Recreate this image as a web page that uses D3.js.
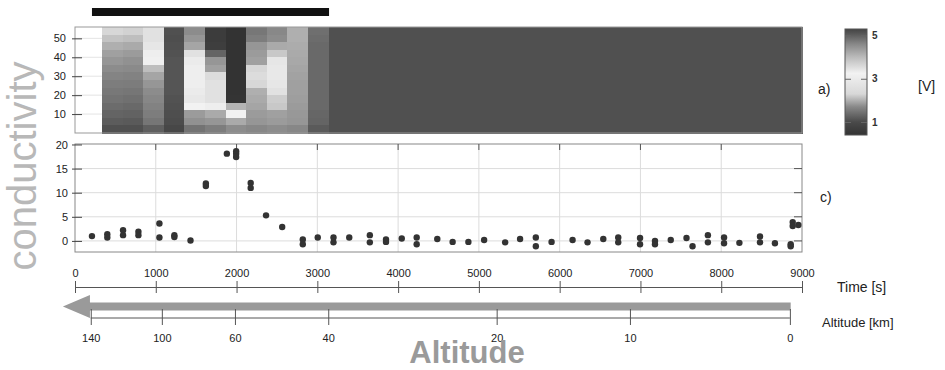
<html>
  <head>
    <title>conductivity / altitude</title>
    <script type="text/javascript" src="https://cdn.jsdelivr.net/npm/d3@7"></script>
    <style>
      body {
        margin: 0;
        background-color: white;
      }
      svg {
        display: block;
        font-family: "Liberation Sans", Arial, sans-serif;
      }
    </style>
  </head>

  <body>
    <script type="text/javascript">
      // Size
      const w = 945;
      const h = 370;

      // Time axis [s]
      const timeTicks = [0, 1000, 2000, 3000, 4000, 5000, 6000, 7000, 8000, 9000];
      // Altitude ticks [km] and the flight time at which each is passed
      const altTicks = [140, 100, 60, 40, 20, 10, 0];
      const altTickTimes = [195, 1075, 1980, 3135, 5220, 6870, 8850];

      // Black bar on top (time span)
      const highlight = [210, 3145];

      // Panel a): columns of the map, start time of each column [s]
      const colStarts = [335, 590, 845, 1100, 1355, 1610, 1865, 2120, 2375, 2630, 2885];
      const colWidth = 255;
      // rows of 4 units, top row first
      const rowBottoms = [52, 48, 44, 40, 36, 32, 28, 24, 20, 16, 12, 8, 4, 0];
      const rowHeight = 4;
      // values [V] per column, top row first
      const colValues = [
        [3.62, 3.89, 4.14, 4.32, 4.44, 4.55, 4.64, 4.71, 4.76, 4.81, 4.87, 4.95, 5.03, 5.16],
        [3.69, 3.96, 4.20, 4.38, 4.49, 4.58, 4.66, 4.72, 4.78, 4.84, 4.90, 4.97, 5.05, 5.16],
        [3.48, 3.48, 3.41, 3.30, 3.28, 3.96, 4.26, 4.44, 4.55, 4.61, 4.66, 4.71, 4.78, 5.00],
        [5.16, 5.18, 5.16, 5.14, 5.10, 5.10, 5.10, 5.10, 5.10, 5.14, 5.16, 5.18, 5.21, 5.27],
        [4.55, 4.44, 4.26, 3.48, 3.35, 3.30, 3.30, 3.30, 3.35, 3.39, 3.25, 4.38, 4.49, 4.81],
        [0.63, 0.63, 0.69, 4.95, 4.44, 4.32, 3.55, 3.48, 3.48, 3.48, 3.30, 4.20, 4.44, 4.71],
        [0.40, 0.40, 0.40, 0.40, 0.40, 0.40, 0.40, 0.40, 0.40, 0.43, 4.08, 3.25, 4.20, 4.55],
        [4.77, 4.71, 4.44, 4.38, 4.32, 3.62, 3.55, 3.62, 4.14, 4.20, 4.26, 4.38, 4.44, 4.61],
        [4.60, 4.55, 4.20, 3.82, 3.41, 3.39, 3.39, 3.41, 3.48, 3.75, 3.82, 4.32, 4.38, 4.55],
        [4.14, 4.14, 4.18, 4.20, 4.22, 4.26, 4.29, 4.32, 4.32, 4.34, 4.38, 4.41, 4.44, 4.61],
        [4.85, 4.87, 4.90, 4.90, 4.90, 4.90, 4.90, 4.90, 4.90, 4.90, 4.90, 4.93, 4.95, 5.05]
      ];
      // rest of the flight
      const restSpan = [3140, 9000];
      const restValue = 5.16;
      const mapYTicks = [10, 20, 30, 40, 50];
      const cbarTicks = [1, 3, 5];

      // Panel c): conductivity points
      const scatTime = [210, 400, 400, 595, 595, 785, 785, 1045, 1045, 1230, 1230, 1430, 1620, 1620,
        1880, 1995, 1995, 1995, 2175, 2175, 2365, 2565, 2820, 2820, 3005, 3200, 3200, 3395, 3650, 3650,
        3850, 3850, 4045, 4230, 4230, 4485, 4675, 4870, 5065, 5325, 5510, 5705, 5705, 5900, 6160, 6345,
        6540, 6725, 6725, 6995, 6995, 7180, 7180, 7375, 7570, 7645, 7835, 7835, 8035, 8035, 8225, 8480,
        8480, 8665, 8860, 8860, 8885, 8885, 8955];
      const scatValue = [1.0, 1.4, 0.7, 2.2, 1.2, 1.9, 1.2, 3.6, 0.7, 1.2, 0.8, 0.1, 11.9, 11.4,
        18.1, 18.6, 18.1, 17.4, 12.0, 11.0, 5.3, 2.9, 0.3, -0.7, 0.7, 0.7, -0.3, 0.7, 1.2, -0.3,
        0.3, -0.2, 0.5, 0.7, -0.7, 0.4, -0.2, -0.2, 0.2, -0.3, 0.4, 0.7, -1.1, -0.2, 0.2, -0.3,
        0.4, 0.7, -0.3, 0.6, -0.7, 0.0, -0.7, 0.2, 0.6, -1.1, 1.2, -0.3, 0.7, -0.5, -0.4, 0.9,
        -0.3, -0.5, -0.7, -1.1, 3.9, 3.1, 3.3];
      const scatYTicks = [0, 5, 10, 15, 20];

      // Scales
      const xScale = d3.scaleLinear().domain([0, 9000]).range([75, 802]);
      const yMap = d3.scaleLinear().domain([0, 56]).range([133, 27]);
      const yScat = d3.scaleLinear().domain([-2.3, 20.1]).range([252, 144]);
      const yCbar = d3.scaleLinear().domain([0.4, 5.3]).range([135, 29]);
      // grey map: dark - white - dark
      const grey = d3.scaleLinear()
        .domain([0.4, 1.0, 1.7, 2.3, 3.25, 4.0, 4.6, 5.1, 5.3])
        .range(["#333", "#4a4a4a", "#888", "#d8d8d8", "#f2f2f2", "#bbb", "#888", "#555", "#444"])
        .clamp(true);

      const svg = d3.select("body")
        .append("svg")
        .attr("width", w)
        .attr("height", h);

      // Black bar
      svg.append("rect")
        .attr("x", xScale(highlight[0]))
        .attr("y", 8)
        .attr("width", xScale(highlight[1]) - xScale(highlight[0]))
        .attr("height", 8)
        .attr("fill", "#111");

      // ---- panel a) ----
      svg.append("g")
        .selectAll("line")
        .data(mapYTicks)
        .enter()
        .append("line")
        .attr("x1", xScale(0))
        .attr("x2", xScale(9000))
        .attr("y1", d => yMap(d))
        .attr("y2", d => yMap(d))
        .attr("stroke", "#e4e4e4");

      const cells = [];
      colStarts.forEach(function (t, i) {
        rowBottoms.forEach(function (b, j) {
          cells.push({ t0: t, t1: t + colWidth, b: b, v: colValues[i][j] });
        });
      });
      cells.push({ t0: restSpan[0], t1: restSpan[1], b: 0, top: 56, v: restValue });

      svg.append("g")
        .attr("shape-rendering", "crispEdges")
        .selectAll("rect")
        .data(cells)
        .enter()
        .append("rect")
        .attr("x", d => xScale(d.t0))
        .attr("y", d => yMap(d.top !== undefined ? d.top : d.b + rowHeight))
        .attr("width", d => xScale(d.t1) - xScale(d.t0) + 0.6)
        .attr("height", d => yMap(d.b) - yMap(d.top !== undefined ? d.top : d.b + rowHeight) + 0.6)
        .attr("fill", d => grey(d.v));

      svg.append("rect")
        .attr("x", xScale(0))
        .attr("y", yMap(56))
        .attr("width", xScale(9000) - xScale(0))
        .attr("height", yMap(0) - yMap(56))
        .attr("fill", "none")
        .attr("stroke", "#999");

      const mapAxis = svg.append("g")
        .attr("transform", "translate(" + xScale(0) + ",0)")
        .call(d3.axisLeft(yMap).tickValues(mapYTicks).tickSizeInner(3).tickSizeOuter(0).tickPadding(6));
      mapAxis.select(".domain").remove();
      mapAxis.selectAll(".tick").append("line").attr("x2", 7).attr("stroke", "#444");
      mapAxis.selectAll("line").attr("stroke", "#444");
      mapAxis.selectAll("text").attr("font-size", 11).attr("fill", "#222");

      // colour bar
      const grad = svg.append("defs").append("linearGradient")
        .attr("id", "cbar")
        .attr("x1", 0).attr("y1", 1).attr("x2", 0).attr("y2", 0);
      grey.domain().forEach(function (v) {
        grad.append("stop")
          .attr("offset", (v - 0.4) / (5.3 - 0.4))
          .attr("stop-color", grey(v));
      });
      svg.append("rect")
        .attr("x", 845)
        .attr("y", yCbar(5.3))
        .attr("width", 22)
        .attr("height", yCbar(0.4) - yCbar(5.3))
        .attr("fill", "url(#cbar)")
        .attr("stroke", "#555");
      const cbarAxis = svg.append("g")
        .attr("transform", "translate(867,0)")
        .call(d3.axisRight(yCbar).tickValues(cbarTicks).tickFormat(d3.format("d"))
          .tickSizeInner(0).tickSizeOuter(0).tickPadding(5));
      cbarAxis.select(".domain").remove();
      cbarAxis.selectAll(".tick").append("line").attr("x1", -6).attr("x2", 0).attr("stroke", "#666");
      cbarAxis.selectAll(".tick").append("line").attr("x1", -22).attr("x2", -16).attr("stroke", "#666");
      cbarAxis.selectAll("text").attr("font-size", 10).attr("font-weight", "bold").attr("fill", "#333");

      svg.append("text").attr("x", 818).attr("y", 94).attr("font-size", 14).attr("fill", "#222").text("a)");
      svg.append("text").attr("x", 918).attr("y", 91).attr("font-size", 14).attr("fill", "#222").text("[V]");

      // ---- panel c) ----
      const gridC = svg.append("g").attr("stroke", "#dcdcdc");
      gridC.selectAll("line.h")
        .data(scatYTicks.slice(0, 4))
        .enter()
        .append("line")
        .attr("class", "h")
        .attr("x1", xScale(0)).attr("x2", xScale(9000))
        .attr("y1", d => yScat(d)).attr("y2", d => yScat(d));
      gridC.selectAll("line.v")
        .data(timeTicks.slice(1, 9))
        .enter()
        .append("line")
        .attr("class", "v")
        .attr("x1", d => xScale(d)).attr("x2", d => xScale(d))
        .attr("y1", yScat(20.1)).attr("y2", yScat(-2.3));

      svg.append("rect")
        .attr("x", xScale(0))
        .attr("y", yScat(20.1))
        .attr("width", xScale(9000) - xScale(0))
        .attr("height", yScat(-2.3) - yScat(20.1))
        .attr("fill", "none")
        .attr("stroke", "#888");

      // small ticks on top and right edge
      svg.append("g")
        .selectAll("line")
        .data(timeTicks.slice(1, 9))
        .enter()
        .append("line")
        .attr("x1", d => xScale(d)).attr("x2", d => xScale(d))
        .attr("y1", yScat(20.1)).attr("y2", yScat(20.1) + 6)
        .attr("stroke", "#555");
      svg.append("g")
        .selectAll("line")
        .data(scatYTicks.slice(0, 4))
        .enter()
        .append("line")
        .attr("x1", xScale(9000) - 8).attr("x2", xScale(9000))
        .attr("y1", d => yScat(d)).attr("y2", d => yScat(d))
        .attr("stroke", "#555");

      const scatAxis = svg.append("g")
        .attr("transform", "translate(" + xScale(0) + ",0)")
        .call(d3.axisLeft(yScat).tickValues(scatYTicks).tickSizeInner(3).tickSizeOuter(0).tickPadding(4));
      scatAxis.select(".domain").remove();
      scatAxis.selectAll(".tick").append("line").attr("x2", 7);
      scatAxis.selectAll("line").attr("stroke", "#444");
      scatAxis.selectAll("text").attr("font-size", 11).attr("fill", "#222");

      svg.append("g")
        .selectAll("circle")
        .data(scatTime)
        .enter()
        .append("circle")
        .attr("cx", d => xScale(d))
        .attr("cy", (d, i) => yScat(scatValue[i]))
        .attr("r", 3.2)
        .attr("fill", "#333");

      svg.append("text").attr("x", 820).attr("y", 202).attr("font-size", 14).attr("fill", "#222").text("c)");

      // ---- time axis ----
      const timeAxis = svg.append("g")
        .attr("transform", "translate(0,287)")
        .call(d3.axisTop(xScale).tickValues(timeTicks).tickFormat(d3.format("d"))
          .tickSizeInner(6).tickSizeOuter(0).tickPadding(4));
      timeAxis.selectAll(".tick").append("line").attr("y2", 6);
      timeAxis.selectAll("line, path").attr("stroke", "#555");
      timeAxis.selectAll("text").attr("font-size", 11).attr("fill", "#222");
      svg.append("text").attr("x", 837).attr("y", 292).attr("font-size", 14).attr("fill", "#222").text("Time [s]");

      // ---- arrow (descent direction) ----
      const ay = 306.5;
      const arrowLeft = xScale(-150);
      const headEnd = xScale(185);
      const arrowRight = xScale(8860);
      svg.append("path")
        .attr("d", "M" + arrowLeft + "," + ay +
          " L" + headEnd + "," + (ay - 11.5) +
          " L" + headEnd + "," + (ay - 4) +
          " L" + arrowRight + "," + (ay - 4) +
          " L" + arrowRight + "," + (ay + 4) +
          " L" + headEnd + "," + (ay + 4) +
          " L" + headEnd + "," + (ay + 11.5) + " Z")
        .attr("fill", "#9a9a9a");

      // ---- altitude axis ----
      svg.append("line")
        .attr("x1", xScale(altTickTimes[0]))
        .attr("x2", xScale(altTickTimes[altTickTimes.length - 1]))
        .attr("y1", 318).attr("y2", 318)
        .attr("stroke", "#555");
      const altAxis = svg.append("g")
        .attr("transform", "translate(0,318)")
        .call(d3.axisBottom(xScale).tickValues(altTickTimes)
          .tickFormat((d, i) => altTicks[i])
          .tickSizeInner(7).tickSizeOuter(0).tickPadding(9));
      altAxis.select(".domain").remove();
      altAxis.selectAll(".tick").append("line").attr("y2", -9);
      altAxis.selectAll("line").attr("stroke", "#555");
      altAxis.selectAll("text").attr("font-size", 11).attr("fill", "#222");
      svg.append("text").attr("x", 822).attr("y", 327).attr("font-size", 13).attr("fill", "#222").text("Altitude [km]");

      // ---- big labels ----
      svg.append("text")
        .attr("x", 467).attr("y", 363)
        .attr("text-anchor", "middle")
        .attr("font-size", 31)
        .attr("font-weight", "bold")
        .attr("fill", "#9a9a9a")
        .text("Altitude");

      svg.append("text")
        .attr("transform", "translate(36,166) rotate(-90)")
        .attr("text-anchor", "middle")
        .attr("font-size", 40)
        .attr("fill", "#b8b8b8")
        .text("conductivity");
    </script>
  </body>
</html>
